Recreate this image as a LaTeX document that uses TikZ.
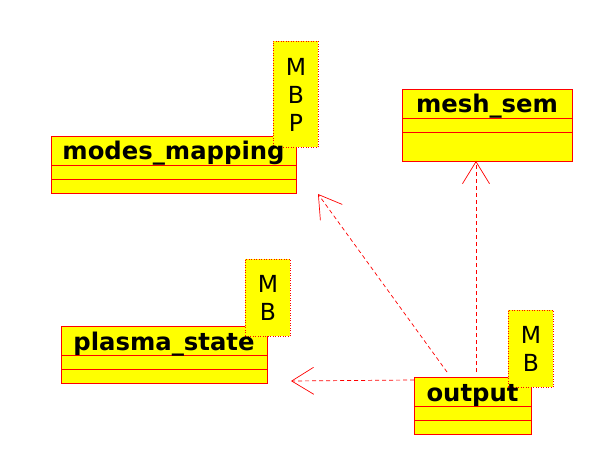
\documentclass[tikz,border=0pt]{standalone}
\usepackage{fontspec}
\setmainfont{DejaVu Sans}
\usetikzlibrary{arrows.meta}
\definecolor{uyellow}{RGB}{255,255,0}
\definecolor{ured}{RGB}{255,0,0}
\tikzset{
  umlbox/.style={draw=ured, fill=uyellow, line width=1pt, rectangle, inner sep=0pt, anchor=north west},
  comp/.style={draw=ured, line width=0.8pt},
  title/.style={font=\fontsize{24.3}{27}\selectfont\bfseries, inner sep=0pt, anchor=base},
  notebox/.style={draw=ured, fill=uyellow, dash pattern=on 1pt off 1.5pt, line width=0.9pt, rectangle, inner sep=0pt, anchor=north west},
  notetext/.style={font=\fontsize{23.5}{28}\selectfont, align=center, inner sep=0pt},
  dep/.style={draw=ured, dashed, dash pattern=on 4pt off 3pt, line width=0.7pt,
              -{Straight Barb[length=22pt, width=27pt, line width=0.7pt]}}
}
\begin{document}
\begin{tikzpicture}[x=1pt, y=-1pt]
\useasboundingbox (0,0) rectangle (613,473);
% class boxes
\node[umlbox, minimum width=245pt, minimum height=57pt] (mm) at (51,136) {};
\draw[comp] (51,165) -- (296,165);
\draw[comp] (51,179) -- (296,179);
\node[umlbox, minimum width=170pt, minimum height=72pt] (ms) at (402,89) {};
\draw[comp] (402,118) -- (572,118);
\draw[comp] (402,132) -- (572,132);
\node[umlbox, minimum width=206pt, minimum height=57pt] (ps) at (61,326) {};
\draw[comp] (61,355) -- (267,355);
\draw[comp] (61,369) -- (267,369);
\node[umlbox, minimum width=117pt, minimum height=57pt] (out) at (414,377) {};
\draw[comp] (414,406) -- (531,406);
\draw[comp] (414,420) -- (531,420);
% notes
\node[notebox, minimum width=45pt, minimum height=106pt] (n1) at (273,41) {};
\node[notetext] (n1t) at (n1.center) {M\\B\\P};
\node[notebox, minimum width=45pt, minimum height=77pt] (n2) at (245,259) {};
\node[notetext] (n2t) at (n2.center) {M\\B};
\node[notebox, minimum width=45pt, minimum height=77pt] (n3) at (508,310) {};
\node[notetext] (n3t) at (n3.center) {M\\B};
% titles
\node[title] (mmt) at (173.5,160) {modes\_mapping};
\node[title] (mst) at (487,113) {mesh\_sem};
\node[title] (pst) at (164,350) {plasma\_state};
\node[title] (outt) at (472.5,401) {output};
% connector endpoints
\coordinate (a1s) at (447,372);
\coordinate (a1e) at (318,194);
\coordinate (a2s) at (476,372);
\coordinate (a2e) at (476,161);
\coordinate (a3s) at (414,380);
\coordinate (a3e) at (291,381);
\draw[dep] (a1s) -- (a1e);
\draw[dep] (a2s) -- (a2e);
\draw[dep] (a3s) -- (a3e);
\end{tikzpicture}
\end{document}
